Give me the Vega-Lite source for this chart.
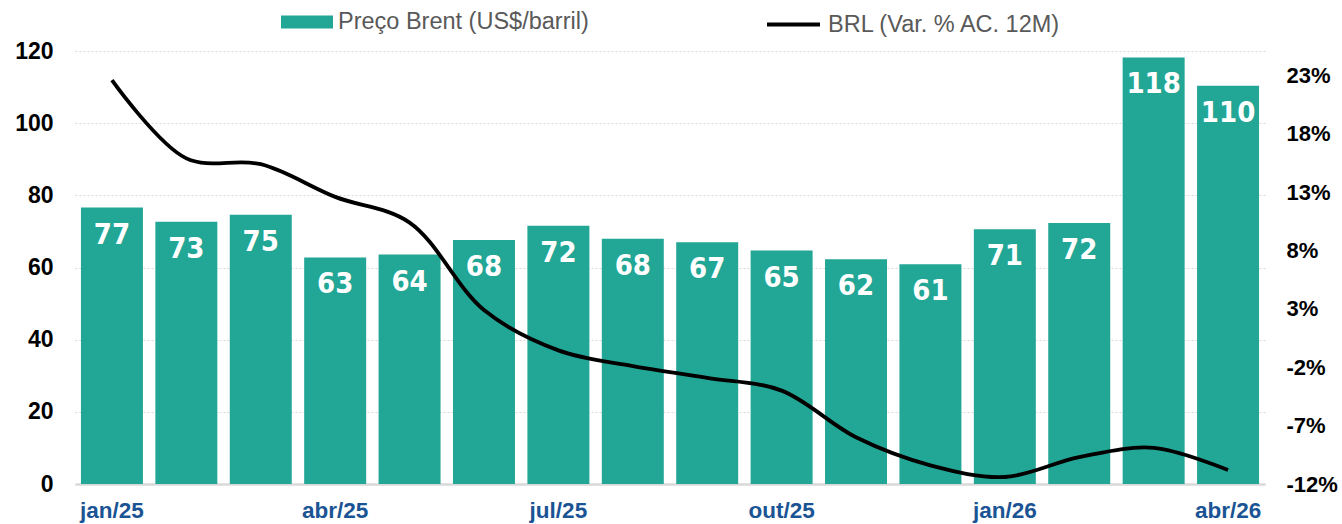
{
  "$schema": "https://vega.github.io/schema/vega-lite/v6.json",
  "autosize": {"type": "none"},
  "width": 1190,
  "height": 433,
  "padding": {"left": 75, "top": 51, "right": 77, "bottom": 40},
  "background": "white",
  "config": {
    "view": {"stroke": null},
    "font": "Liberation Sans"
  },
  "data": {
    "values": [
      {"mes": "jan/25", "brent": 76.6, "brl": 22.6},
      {"mes": "fev/25", "brent": 72.7, "brl": 15.9},
      {"mes": "mar/25", "brent": 74.6, "brl": 15.4},
      {"mes": "abr/25", "brent": 62.8, "brl": 12.6},
      {"mes": "mai/25", "brent": 63.6, "brl": 10.4},
      {"mes": "jun/25", "brent": 67.6, "brl": 2.9},
      {"mes": "jul/25", "brent": 71.6, "brl": -0.55},
      {"mes": "ago/25", "brent": 68.0, "brl": -1.9},
      {"mes": "set/25", "brent": 67.0, "brl": -2.9},
      {"mes": "out/25", "brent": 64.7, "brl": -4.0},
      {"mes": "nov/25", "brent": 62.3, "brl": -8.0},
      {"mes": "dez/25", "brent": 60.9, "brl": -10.4},
      {"mes": "jan/26", "brent": 70.6, "brl": -11.4},
      {"mes": "fev/26", "brent": 72.3, "brl": -9.7},
      {"mes": "mar/26", "brent": 118.2, "brl": -8.9},
      {"mes": "abr/26", "brent": 110.4, "brl": -10.8}
    ]
  },
  "encoding": {
    "x": {
      "field": "mes",
      "type": "nominal",
      "sort": null,
      "scale": {"paddingInner": 0.167, "paddingOuter": 0.08},
      "axis": {
        "title": null,
        "values": ["jan/25", "abr/25", "jul/25", "out/25", "jan/26", "abr/26"],
        "labelAngle": 0,
        "labelFont": "Liberation Sans",
        "labelFontSize": 22.5,
        "labelFontWeight": "bold",
        "labelColor": "#1B5494",
        "labelPadding": 15,
        "ticks": false,
        "domainColor": "#D9D9D9",
        "domainWidth": 2.5,
        "grid": false
      }
    }
  },
  "layer": [
    {
      "layer": [
        {
          "mark": {"type": "bar", "color": "#22A695"},
          "encoding": {
            "y": {
              "field": "brent",
              "type": "quantitative",
              "scale": {"domain": [0, 120], "nice": false},
              "axis": {
                "title": null,
                "values": [0, 20, 40, 60, 80, 100, 120],
                "labelFont": "Liberation Sans",
                "labelFontSize": 23,
                "labelFontWeight": "bold",
                "labelColor": "#000000",
                "labelPadding": 22,
                "ticks": false,
                "domain": false,
                "grid": true,
                "gridColor": "#D9D9D9",
                "gridDash": [2, 2],
                "gridWidth": 1.2
              }
            },
            "fill": {
              "datum": "Preço Brent (US$/barril)",
              "type": "nominal",
              "scale": {"range": ["#22A695"]},
              "legend": {
                "title": null,
                "orient": "none",
                "legendX": 206,
                "legendY": -55,
                "symbolType": "M-1,-0.25H1V0.25H-1Z",
                "symbolSize": 2704,
                "symbolStrokeWidth": 0,
                "labelFont": "Liberation Sans",
                "labelFontSize": 23.5,
                "labelColor": "#595959",
                "labelOffset": 5,
                "labelLimit": 0
              }
            }
          }
        },
        {
          "mark": {
            "type": "text",
            "color": "white",
            "font": "DejaVu Sans Condensed",
            "fontWeight": "bold",
            "fontSize": 29,
            "baseline": "top",
            "dy": 13
          },
          "encoding": {
            "y": {"field": "brent", "type": "quantitative", "scale": {"domain": [0, 120], "nice": false}},
            "text": {"field": "brent", "type": "quantitative", "format": ".0f"}
          }
        }
      ]
    },
    {
      "mark": {"type": "line", "color": "#000000", "strokeWidth": 3.8, "interpolate": "catmull-rom"},
      "encoding": {
        "y": {
          "field": "brl",
          "type": "quantitative",
          "scale": {"domain": [-12, 25.1], "nice": false, "zero": false},
          "axis": {
            "orient": "right",
            "title": null,
            "values": [-12, -7, -2, 3, 8, 13, 18, 23],
            "labelExpr": "datum.value + '%'",
            "labelFont": "Liberation Sans",
            "labelFontSize": 22,
            "labelFontWeight": "bold",
            "labelColor": "#000000",
            "labelPadding": 21,
            "ticks": false,
            "domain": false,
            "grid": false
          }
        },
        "stroke": {
          "datum": "BRL (Var. % AC. 12M)",
          "type": "nominal",
          "scale": {"range": ["#000000"]},
          "legend": {
            "title": null,
            "orient": "none",
            "legendX": 690,
            "legendY": -55,
            "symbolType": "stroke",
            "symbolSize": 2809,
            "symbolStrokeWidth": 4,
            "labelFont": "Liberation Sans",
            "labelFontSize": 23.5,
            "labelColor": "#595959",
            "labelOffset": 6,
            "labelLimit": 0
          }
        }
      }
    }
  ],
  "resolve": {"scale": {"y": "independent", "fill": "independent", "stroke": "independent"}}
}
